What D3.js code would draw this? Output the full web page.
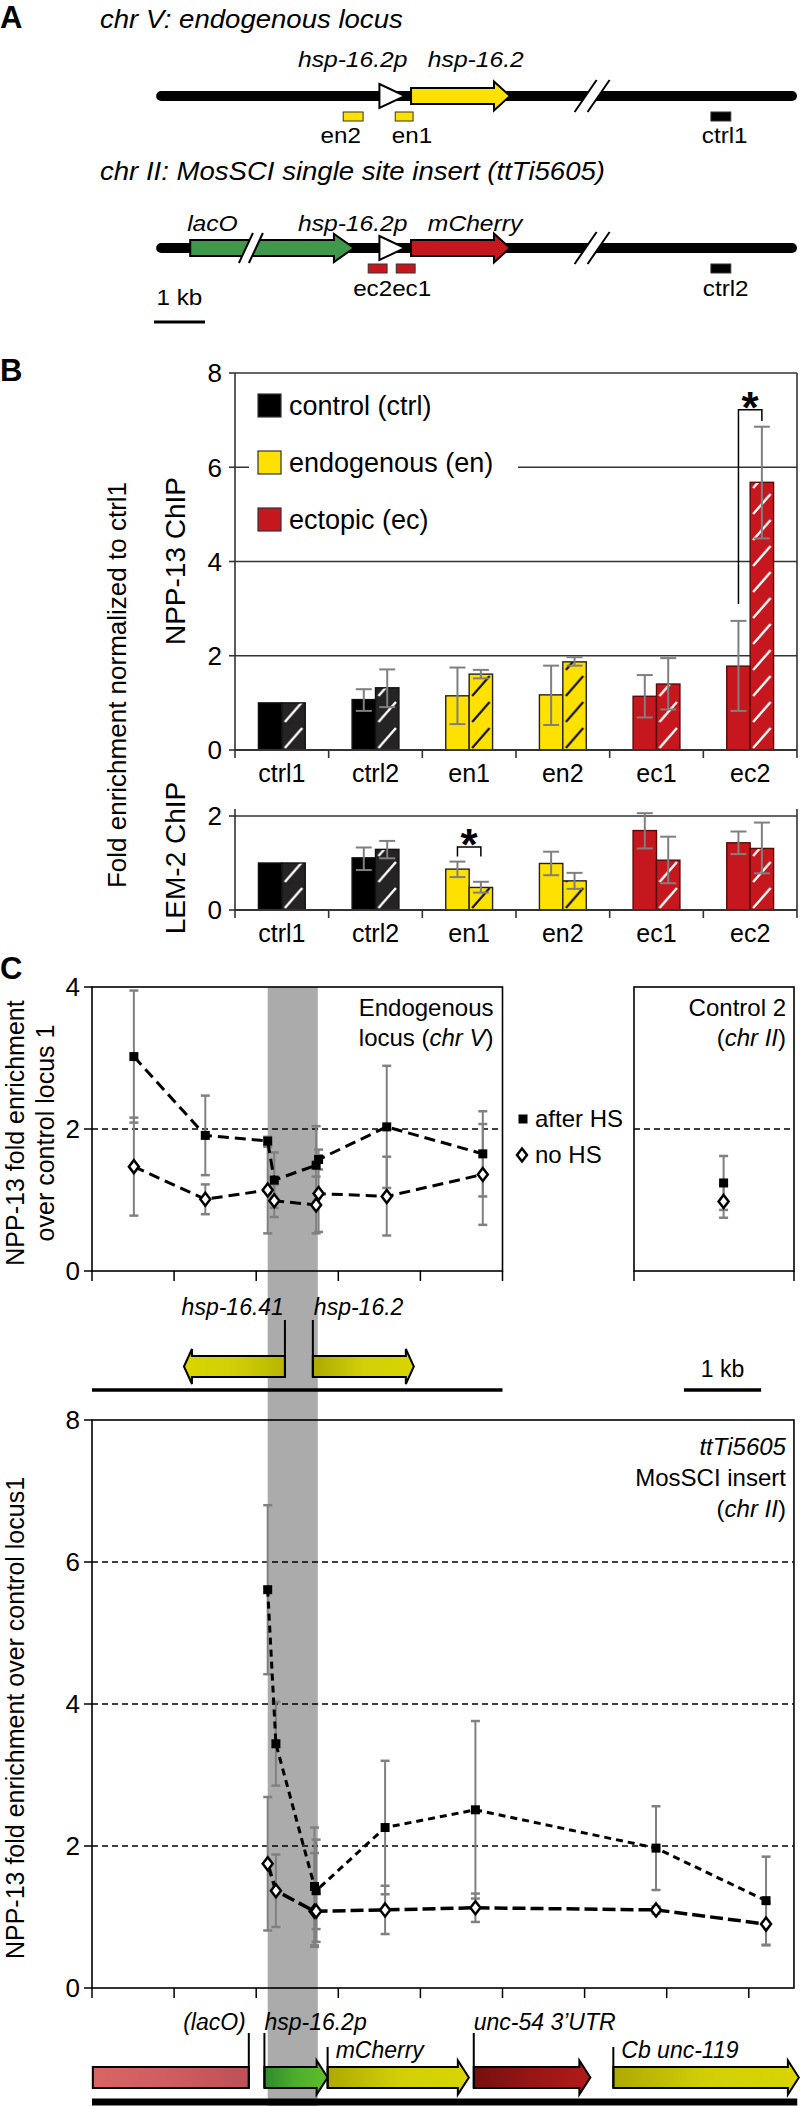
<!DOCTYPE html>
<html><head><meta charset="utf-8">
<script src="https://cdn.jsdelivr.net/npm/d3@7"></script>
<style>
body{margin:0;background:#fff}
svg{display:block}
text{font-family:"Liberation Sans",Arial,Helvetica,sans-serif}
</style>
</head><body>
<svg id="fig" width="800" height="2106"></svg>
<script>
// ===================== DATA =====================
// Panel A (schematic, positions in kb)
const locusVFeatures = { promoter:[4.42,4.92], gene:[5.04,6.98], breakAt:8.59 };
const locusVProbes = [
  {name:"en2", from:3.71, to:4.10, group:"en", label:3.66},
  {name:"en1", from:4.73, to:5.08, group:"en", label:5.06},
  {name:"ctrl1", from:10.92, to:11.31, group:"ctrl", label:11.19}
];
const locusIIFeatures = { lacO:[0.71,3.92], lacOBreak:1.90, promoter:[4.42,4.92], gene:[5.04,6.98], breakAt:8.59 };
const locusIIProbes = [
  {name:"ec2", from:4.20, to:4.57, group:"ec"},
  {name:"ec1", from:4.75, to:5.12, group:"ec"},
  {name:"ctrl2", from:10.92, to:11.31, group:"ctrl", label:11.21}
];

// Panel B
const categories = ["ctrl1","ctrl2","en1","en2","ec1","ec2"];
const categoryGroup = ["ctrl","ctrl","en","en","ec","ec"];
const legendLabels = ["control (ctrl)","endogenous (en)","ectopic (ec)"];
const npp13Solid   = [1.00, 1.07, 1.15, 1.17, 1.14, 1.78];
const npp13SolidLo = [null, 0.83, 0.55, 0.53, 0.69, 0.83];
const npp13SolidHi = [null, 1.29, 1.75, 1.79, 1.59, 2.74];
const npp13Hatch   = [1.00, 1.32, 1.61, 1.87, 1.40, 5.68];
const npp13HatchLo = [null, 0.91, 1.52, 1.79, 0.86, 4.49];
const npp13HatchHi = [null, 1.71, 1.70, 1.97, 1.95, 6.86];
const lem2Solid    = [1.00, 1.11, 0.87, 0.99, 1.69, 1.43];
const lem2SolidLo  = [null, 0.85, 0.70, 0.74, 1.31, 1.19];
const lem2SolidHi  = [null, 1.33, 1.03, 1.24, 2.06, 1.67];
const lem2Hatch    = [1.00, 1.29, 0.48, 0.62, 1.06, 1.31];
const lem2HatchLo  = [null, 1.10, 0.37, 0.45, 0.57, 0.78];
const lem2HatchHi  = [null, 1.47, 0.60, 0.79, 1.56, 1.86];
const npp13Ticks = [0,2,4,6,8];
const lem2Ticks = [0,2];

// Panel C top (endogenous locus, positions in kb)
const endoPos     = [0.51,1.38,2.14,2.22,2.73,2.76,3.59,4.76];
const endoAfterHS = [3.02,1.91,1.83,1.28,1.49,1.57,2.03,1.65];
const endoAfterLo = [2.09,1.35,1.77,0.89,0.94,1.43,1.17,1.05];
const endoAfterHi = [3.95,2.47,1.89,1.67,2.04,1.71,2.89,2.25];
const endoNoHS    = [1.47,1.01,1.14,0.99,0.93,1.09,1.05,1.36];
const endoNoLo    = [0.78,0.80,0.53,0.76,0.53,0.55,0.50,0.65];
const endoNoHi    = [2.16,1.22,1.75,1.22,1.33,1.63,1.61,2.07];
const ctrl2AfterHS = [1.24], ctrl2AfterLo = [0.86], ctrl2AfterHi = [1.62];
const ctrl2NoHS = [0.98], ctrl2NoLo = [0.75], ctrl2NoHi = [1.21];
const ctrl2Pos = [0.56];
const topTicksY = [0,2,4];
// Panel C bottom (MosSCI insert)
const insPos     = [2.14,2.24,2.71,2.73,3.57,4.67,6.87,8.21];
const insAfterHS = [5.61,3.44,1.43,1.37,2.26,2.51,1.97,1.23];
const insAfterLo = [4.42,2.85,0.60,0.65,1.32,1.26,1.38,0.61];
const insAfterHi = [6.80,4.03,2.26,2.09,3.20,3.76,2.56,1.85];
const insNoHS    = [1.75,1.37,1.08,1.08,1.10,1.13,1.10,0.90];
const insNoLo    = [0.81,0.86,0.58,0.83,0.76,0.93,1.05,0.60];
const insNoHi    = [2.69,1.88,1.90,1.33,1.44,1.33,1.15,1.20];
const insTicksY = [0,2,4,6,8];
const shadedRegion = [2.14, 2.75];
const endoGenes = [
  {name:"hsp-16.41", from:2.35, to:1.12},
  {name:"hsp-16.2", from:2.69, to:3.92}
];
const insertParts = [
  {name:"(lacO)", from:0.01, to:1.91, kind:"box", fill:"gLac", labelRow:0},
  {name:"hsp-16.2p", from:2.10, to:2.87, kind:"arrow", fill:"gGreen", labelRow:0},
  {name:"mCherry", from:2.87, to:4.59, kind:"arrow", fill:"gYG", labelRow:1},
  {name:"unc-54 3\u2019UTR", from:4.65, to:6.07, kind:"arrow", fill:"gDark", labelRow:0},
  {name:"Cb unc-119", from:6.35, to:8.61, kind:"arrow", fill:"gYG", labelRow:1}
];

// ===================== HELPERS =====================
const svg = d3.select("#fig");
const defs = svg.append("defs");
function txt(g, x, y, s, o = {}) {
  const t = g.append("text").attr("x", x).attr("y", y)
    .attr("font-size", o.size || 22)
    .attr("text-anchor", o.anchor || "start")
    .attr("fill", o.fill || "#000");
  if (o.italic) t.attr("font-style", "italic");
  if (o.bold) t.attr("font-weight", "bold");
  let tr = "";
  if (o.rotate) tr += `rotate(${o.rotate},${x},${y}) `;
  if (o.sx) tr += `translate(${x},${y}) scale(${o.sx},1) translate(${-x},${-y})`;
  if (tr) t.attr("transform", tr);
  if (o.dy) t.attr("dy", o.dy);
  if (Array.isArray(s)) s.forEach(p => t.append("tspan").attr("font-style", p.i ? "italic" : "normal").text(p.t));
  else t.text(s);
  return t;
}
function arrowPts(x0, x1, yc, bh, hh, hl) {
  const d = Math.sign(x1 - x0), xh = x1 - d * hl;
  return [[x0, yc - bh/2],[xh, yc - bh/2],[xh, yc - hh/2],[x1, yc],[xh, yc + hh/2],[xh, yc + bh/2],[x0, yc + bh/2]];
}
function poly(g, pts, fill, stroke, sw) {
  return g.append("polygon").attr("points", pts.map(p => p.join(",")).join(" "))
    .attr("fill", fill).attr("stroke", stroke || "#000").attr("stroke-width", sw == null ? 2 : sw)
    .attr("stroke-linejoin", "miter");
}
function grad(id, stops) {
  const lg = defs.append("linearGradient").attr("id", id).attr("x1", 0).attr("x2", 1).attr("y1", 0).attr("y2", 0);
  stops.forEach((c, i) => lg.append("stop").attr("offset", i / (stops.length - 1)).attr("stop-color", c));
}
grad("gYG", ["#ADA900", "#D2CF08", "#D8D500"]);
grad("gYGrev", ["#D8D500", "#D2CF08", "#B8B400"]);
grad("gGreen", ["#2E8A2C", "#4DAE2A", "#5FBE2B"]);
grad("gDark", ["#741010", "#981515", "#B31A1A"]);
grad("gLac", ["#D86464", "#CF5C60", "#BE5058"]);

const groupColor = {ctrl:"#000000", en:"#FFE100", ec:"#C7171E"};
const hatchBase = {ctrl:"#262324", en:"#FFE100", ec:"#C7171E"};
const hatchLine = {ctrl:"#FFFFFF", en:"#111111", ec:"#FFFFFF"};
const barStroke = {ctrl:"#111", en:"#222", ec:"#5a0a0a"};

// ===================== PANEL A =====================
const gA = svg.append("g");
const ax = d3.scaleLinear().domain([0, 1]).range([154, 205]); // 1 kb
txt(gA, 0, 28, "A", {size:31, bold:true});
txt(gA, 100, 28, "chr V: endogenous locus", {size:26, italic:true, sx:1.06});
txt(gA, 100, 180, "chr II: MosSCI single site insert (ttTi5605)", {size:26, italic:true, sx:1.06});

function breakMark(g, cx, y, w, h, gap) {
  const pts = [[cx - w/2 - gap/2, y + h/2],[cx + w/2 - gap/2, y - h/2],[cx + w/2 + gap/2, y - h/2],[cx - w/2 + gap/2, y + h/2]];
  poly(g, pts, "#fff", "none", 0);
  g.append("line").attr("x1", pts[0][0]).attr("y1", pts[0][1]).attr("x2", pts[1][0]).attr("y2", pts[1][1]).attr("stroke", "#000").attr("stroke-width", 2);
  g.append("line").attr("x1", pts[3][0]).attr("y1", pts[3][1]).attr("x2", pts[2][0]).attr("y2", pts[2][1]).attr("stroke", "#000").attr("stroke-width", 2);
}
function chrLine(g, y) {
  g.append("line").attr("x1", ax(0.14)).attr("x2", ax(12.51)).attr("y1", y).attr("y2", y)
    .attr("stroke", "#000").attr("stroke-width", 10).attr("stroke-linecap", "round");
}
function promoter(g, f, y) {
  poly(g, [[ax(f[0]), y - 12], [ax(f[1]), y], [ax(f[0]), y + 12]], "#fff", "#000", 2);
}
function probe(g, p, y) {
  g.append("rect").attr("x", ax(p.from)).attr("y", y).attr("width", ax(p.to) - ax(p.from)).attr("height", 9)
    .attr("fill", groupColor[p.group]).attr("stroke", "#333").attr("stroke-width", 1);
}
// Row 1
const y1 = 96;
chrLine(gA, y1);
promoter(gA, locusVFeatures.promoter, y1);
poly(gA, arrowPts(ax(locusVFeatures.gene[0]), ax(locusVFeatures.gene[1]), y1, 16, 29, 16), groupColor.en, "#000", 2);
breakMark(gA, ax(locusVFeatures.breakAt), y1, 22, 32, 13);
txt(gA, ax(4.97), 67, "hsp-16.2p", {size:22, italic:true, anchor:"end", sx:1.12});
txt(gA, ax(5.37), 67, "hsp-16.2", {size:22, italic:true, sx:1.12});
locusVProbes.forEach(p => { probe(gA, p, 112); txt(gA, ax(p.label), 143, p.name, {size:22, anchor:"middle", sx:1.1}); });
// Row 2
const y2 = 248;
chrLine(gA, y2);
poly(gA, arrowPts(ax(locusIIFeatures.lacO[0]), ax(locusIIFeatures.lacO[1]), y2, 16, 28, 20), "#40994A", "#000", 2);
breakMark(gA, ax(locusIIFeatures.lacOBreak), y2, 14, 30, 10);
promoter(gA, locusIIFeatures.promoter, y2);
poly(gA, arrowPts(ax(locusIIFeatures.gene[0]), ax(locusIIFeatures.gene[1]), y2, 16, 29, 16), groupColor.ec, "#000", 2);
breakMark(gA, ax(locusIIFeatures.breakAt), y2, 22, 32, 13);
txt(gA, ax(0.65), 231, "lacO", {size:22, italic:true, sx:1.12});
txt(gA, ax(4.97), 231, "hsp-16.2p", {size:22, italic:true, anchor:"end", sx:1.12});
txt(gA, ax(5.37), 231, "mCherry", {size:22, italic:true, sx:1.12});
locusIIProbes.forEach(p => probe(gA, p, 264));
txt(gA, ax(4.67), 296, "ec2", {size:22, anchor:"end", sx:1.1});
txt(gA, ax(4.67), 296, "ec1", {size:22, anchor:"start", sx:1.1});
txt(gA, ax(11.21), 296, "ctrl2", {size:22, anchor:"middle", sx:1.1});
txt(gA, ax(0.05), 305, "1 kb", {size:22, sx:1.1});
gA.append("line").attr("x1", ax(0)).attr("x2", ax(1)).attr("y1", 322).attr("y2", 322).attr("stroke", "#000").attr("stroke-width", 3);

// ===================== PANEL B =====================
const gB = svg.append("g");
txt(gB, 0, 381, "B", {size:31, bold:true});
const bx = d3.scaleBand().domain(categories).range([235, 797]).paddingInner(0.5).paddingOuter(0.25);
const sub = d3.scaleBand().domain(["solid", "hatch"]).range([0, bx.bandwidth()]);
const yN = d3.scaleLinear().domain([0, 8]).range([750, 373]);
const yL = d3.scaleLinear().domain([0, 2]).range([910, 816]);

function barFrame(g, y, ticks, topY, gridTicks) {
  const x0 = bx.range()[0], x1 = bx.range()[1];
  gridTicks.forEach(t => g.append("line").attr("x1", x0).attr("x2", x1).attr("y1", y(t)).attr("y2", y(t))
    .attr("stroke", "#333").attr("stroke-width", 1.6));
  g.append("line").attr("x1", x0).attr("x2", x0).attr("y1", topY).attr("y2", y(0)).attr("stroke", "#333").attr("stroke-width", 1.6);
  g.append("line").attr("x1", x1).attr("x2", x1).attr("y1", topY).attr("y2", y(0)).attr("stroke", "#333").attr("stroke-width", 1.6);
  ticks.forEach(t => {
    g.append("line").attr("x1", x0 - 6).attr("x2", x0).attr("y1", y(t)).attr("y2", y(t)).attr("stroke", "#333").attr("stroke-width", 1.6);
    txt(g, x0 - 13, y(t), String(t), {size:26, anchor:"end", dy:"0.36em"});
  });
}
function drawBars(g, y, solid, sLo, sHi, hatch, hLo, hHi, key) {
  const w = sub.bandwidth();
  categories.forEach((c, i) => {
    const grp = categoryGroup[i];
    const xs = bx(c) + sub("solid"), xh = bx(c) + sub("hatch");
    g.append("rect").attr("x", xs).attr("y", y(solid[i])).attr("width", w).attr("height", y(0) - y(solid[i]))
      .attr("fill", groupColor[grp]).attr("stroke", barStroke[grp]).attr("stroke-width", 1.4);
    const pid = `h_${key}_${i}`;
    const pat = defs.append("pattern").attr("id", pid).attr("patternUnits", "userSpaceOnUse")
      .attr("x", xh).attr("y", y(0)).attr("width", w).attr("height", 26);
    pat.append("line").attr("x1", 3).attr("y1", 24).attr("x2", w - 3).attr("y2", 4)
      .attr("stroke", hatchLine[grp]).attr("stroke-width", grp === "en" ? 2.2 : 2.4);
    g.append("rect").attr("x", xh).attr("y", y(hatch[i])).attr("width", w).attr("height", y(0) - y(hatch[i]))
      .attr("fill", hatchBase[grp]);
    g.append("rect").attr("x", xh).attr("y", y(hatch[i])).attr("width", w).attr("height", y(0) - y(hatch[i]))
      .attr("fill", `url(#${pid})`).attr("stroke", barStroke[grp]).attr("stroke-width", 1.4);
  });
  categories.forEach((c, i) => {
    [[sub("solid"), sLo[i], sHi[i]], [sub("hatch"), hLo[i], hHi[i]]].forEach(([off, lo, hi]) => {
      if (lo == null) return;
      const xc = bx(c) + off + w / 2;
      g.append("line").attr("x1", xc).attr("x2", xc).attr("y1", y(lo)).attr("y2", y(hi)).attr("stroke", "#7f7f7f").attr("stroke-width", 2);
      [lo, hi].forEach(v => g.append("line").attr("x1", xc - 8).attr("x2", xc + 8).attr("y1", y(v)).attr("y2", y(v))
        .attr("stroke", "#7f7f7f").attr("stroke-width", 2));
    });
  });
  const x0 = bx.range()[0];
  g.append("line").attr("x1", x0).attr("x2", bx.range()[1]).attr("y1", y(0)).attr("y2", y(0)).attr("stroke", "#333").attr("stroke-width", 1.8);
  d3.range(categories.length + 1).forEach(k => {
    const xx = x0 + k * bx.step();
    g.append("line").attr("x1", xx).attr("x2", xx).attr("y1", y(0)).attr("y2", y(0) + 8).attr("stroke", "#333").attr("stroke-width", 1.6);
  });
  categories.forEach(c => txt(g, bx(c) + bx.bandwidth() / 2, y(0) + 32, c, {size:25, anchor:"middle"}));
}
barFrame(gB, yN, npp13Ticks, yN(8), [2, 4, 6, 8]);
const lg = gB.append("g");
lg.append("rect").attr("x", 249).attr("y", 383).attr("width", 269).attr("height", 158).attr("fill", "#fff");
["ctrl", "en", "ec"].forEach((grp, k) => {
  const yy = 394 + k * 57;
  lg.append("rect").attr("x", 258).attr("y", yy).attr("width", 23).attr("height", 23)
    .attr("fill", groupColor[grp]).attr("stroke", "#333").attr("stroke-width", 1.2);
  txt(lg, 289, yy + 21, legendLabels[k], {size:27});
});
drawBars(gB, yN, npp13Solid, npp13SolidLo, npp13SolidHi, npp13Hatch, npp13HatchLo, npp13HatchHi, "n");
barFrame(gB, yL, lem2Ticks, 809, [2]);
drawBars(gB, yL, lem2Solid, lem2SolidLo, lem2SolidHi, lem2Hatch, lem2HatchLo, lem2HatchHi, "l");
function bracket(g, y, i, v1, v2, top) {
  const w = sub.bandwidth();
  const xa = bx(categories[i]) + sub("solid") + w / 2, xb = bx(categories[i]) + sub("hatch") + w / 2;
  g.append("path").attr("d", `M${xa},${y(v1)}V${y(top)}H${xb}V${y(v2)}`).attr("fill", "none").attr("stroke", "#000").attr("stroke-width", 1.5);
  txt(g, (xa + xb) / 2, y(top) + 13, "*", {size:44, bold:true, anchor:"middle"});
}
bracket(gB, yN, 5, 3.1, 6.98, 7.22);
bracket(gB, yL, 2, 1.14, 1.14, 1.34);
txt(gB, 126, 685, "Fold enrichment normalized to ctrl1", {size:26, anchor:"middle", rotate:-90});
txt(gB, 185, 561, "NPP-13 ChIP", {size:28, anchor:"middle", rotate:-90});
txt(gB, 185, 858, "LEM-2 ChIP", {size:28, anchor:"middle", rotate:-90});

// ===================== PANEL C =====================
const gC = svg.append("g");
const cx = d3.scaleLinear().domain([0, 1]).range([92, 174.1]);
const cx2 = d3.scaleLinear().domain([0, 1]).range([634, 794]);
const yTop = d3.scaleLinear().domain([0, 4]).range([1271, 987]);
const yIns = d3.scaleLinear().domain([0, 8]).range([1988, 1420]);
txt(gC, 0, 979, "C", {size:31, bold:true});
gC.append("rect").attr("x", cx(shadedRegion[0])).attr("width", cx(shadedRegion[1]) - cx(shadedRegion[0]))
  .attr("y", yTop(4)).attr("height", 2106 - yTop(4)).attr("fill", "#ABABAB");

function dashed(g, xa, xb, yy) {
  g.append("line").attr("x1", xa).attr("x2", xb).attr("y1", yy).attr("y2", yy)
    .attr("stroke", "#000").attr("stroke-width", 1.6).attr("stroke-dasharray", "6,4");
}
function yTicks(g, y, ticks, xLeft) {
  ticks.forEach(t => {
    g.append("line").attr("x1", xLeft - 8).attr("x2", xLeft).attr("y1", y(t)).attr("y2", y(t)).attr("stroke", "#000").attr("stroke-width", 1.5);
    txt(g, xLeft - 12, y(t), String(t), {size:26, anchor:"end", dy:"0.36em"});
  });
}
function frame(g, xa, xb, ya, yb, tickXs) {
  g.append("rect").attr("x", xa).attr("y", ya).attr("width", xb - xa).attr("height", yb - ya)
    .attr("fill", "none").attr("stroke", "#000").attr("stroke-width", 1.6);
  tickXs.forEach(xx => g.append("line").attr("x1", xx).attr("x2", xx).attr("y1", yb).attr("y2", yb + 10)
    .attr("stroke", "#000").attr("stroke-width", 1.5));
}
function errBars(g, xs, y, lo, hi) {
  xs.forEach((xv, i) => {
    g.append("line").attr("x1", xv).attr("x2", xv).attr("y1", y(lo[i])).attr("y2", y(hi[i])).attr("stroke", "#808080").attr("stroke-width", 2);
    [lo[i], hi[i]].forEach(v => g.append("line").attr("x1", xv - 4.5).attr("x2", xv + 4.5).attr("y1", y(v)).attr("y2", y(v))
      .attr("stroke", "#808080").attr("stroke-width", 2.5));
  });
}
function series(g, xs, y, vals, dash, width) {
  const line = d3.line().x((d, i) => xs[i]).y(d => y(d));
  g.append("path").attr("d", line(vals)).attr("fill", "none").attr("stroke", "#000")
    .attr("stroke-width", width).attr("stroke-dasharray", dash);
}
function squares(g, xs, y, vals) {
  xs.forEach((xv, i) => g.append("rect").attr("x", xv - 4.5).attr("y", y(vals[i]) - 4.5).attr("width", 9).attr("height", 9).attr("fill", "#000"));
}
function diamonds(g, xs, y, vals) {
  xs.forEach((xv, i) => {
    const yy = y(vals[i]);
    g.append("path").attr("d", `M${xv},${yy - 6.5}L${xv + 5},${yy}L${xv},${yy + 6.5}L${xv - 5},${yy}Z`)
      .attr("fill", "#fff").attr("stroke", "#000").attr("stroke-width", 2.5);
  });
}
// --- top plots
const gT = gC.append("g");
dashed(gT, cx(0), cx(5), yTop(2));
dashed(gT, cx2(0), cx2(1), yTop(2));
frame(gT, cx(0), cx(5), yTop(4), yTop(0), d3.range(0, 6).map(cx));
frame(gT, cx2(0), cx2(1), yTop(4), yTop(0), [cx2(0), cx2(1)]);
yTicks(gT, yTop, topTicksY, cx(0));
const endoX = endoPos.map(cx);
errBars(gT, endoX, yTop, endoAfterLo, endoAfterHi);
errBars(gT, endoX, yTop, endoNoLo, endoNoHi);
series(gT, endoX, yTop, endoAfterHS, "11,6", 3);
series(gT, endoX, yTop, endoNoHS, "11,6", 3);
squares(gT, endoX, yTop, endoAfterHS);
diamonds(gT, endoX, yTop, endoNoHS);
const c2X = ctrl2Pos.map(cx2);
errBars(gT, c2X, yTop, ctrl2AfterLo, ctrl2AfterHi);
errBars(gT, c2X, yTop, ctrl2NoLo, ctrl2NoHi);
squares(gT, c2X, yTop, ctrl2AfterHS);
diamonds(gT, c2X, yTop, ctrl2NoHS);
txt(gT, cx(5) - 9, 1016, "Endogenous", {size:24, anchor:"end"});
txt(gT, cx(5) - 9, 1046, [{t:"locus ("}, {t:"chr V", i:true}, {t:")"}], {size:24, anchor:"end"});
txt(gT, cx2(1) - 8, 1016, "Control 2", {size:24, anchor:"end"});
txt(gT, cx2(1) - 8, 1046, [{t:"("}, {t:"chr II", i:true}, {t:")"}], {size:24, anchor:"end"});
const legY = d3.scaleLinear().domain([0, 1]).range([1119, 1155]);
squares(gT, [523], legY, [0]);
diamonds(gT, [522], legY, [1]);
txt(gT, 535, 1127, "after HS", {size:24});
txt(gT, 535, 1163, "no HS", {size:24});
txt(gC, 24, 1133, "NPP-13 fold enrichment", {size:25, anchor:"middle", rotate:-90});
txt(gC, 54, 1133, "over control locus 1", {size:25, anchor:"middle", rotate:-90});

// --- endogenous gene diagram
const gG = gC.append("g");
gG.append("line").attr("x1", cx(0)).attr("x2", cx(5)).attr("y1", 1390).attr("y2", 1390).attr("stroke", "#000").attr("stroke-width", 3.5);
endoGenes.forEach((g, k) => {
  const a = cx(g.from), b = cx(g.to);
  poly(gG, arrowPts(a, b, 1366.5, 21, 35, 8), k === 0 ? "url(#gYGrev)" : "url(#gYG)", "#000", 2);
  gG.append("line").attr("x1", a).attr("x2", a).attr("y1", 1320).attr("y2", 1377).attr("stroke", "#000").attr("stroke-width", 2);
  txt(gG, a + (b > a ? 1 : -1), 1315, g.name, {size:23, italic:true, anchor: b > a ? "start" : "end"});
});
txt(gG, cx(7.68), 1377, "1 kb", {size:23, anchor:"middle"});
gG.append("line").attr("x1", cx(7.21)).attr("x2", cx(8.15)).attr("y1", 1390).attr("y2", 1390).attr("stroke", "#000").attr("stroke-width", 3.5);

// --- insert plot
const gI = gC.append("g");
[2, 4, 6].forEach(t => dashed(gI, cx(0), cx(8.55), yIns(t)));
frame(gI, cx(0), cx(8.55), yIns(8), yIns(0), d3.range(0, 9).map(cx));
yTicks(gI, yIns, insTicksY, cx(0));
const insX = insPos.map(cx);
errBars(gI, insX, yIns, insAfterLo, insAfterHi);
errBars(gI, insX, yIns, insNoLo, insNoHi);
series(gI, insX, yIns, insAfterHS, "7,5", 3);
series(gI, insX, yIns, insNoHS, "13,5", 3.5);
squares(gI, insX, yIns, insAfterHS);
diamonds(gI, insX, yIns, insNoHS);
txt(gI, cx(8.55) - 8, 1455, "ttTi5605", {size:24, italic:true, anchor:"end"});
txt(gI, cx(8.55) - 8, 1486, "MosSCI insert", {size:24, anchor:"end"});
txt(gI, cx(8.55) - 8, 1517, [{t:"("}, {t:"chr II", i:true}, {t:")"}], {size:24, anchor:"end"});
txt(gC, 24, 1718, "NPP-13 fold enrichment over control locus1", {size:25, anchor:"middle", rotate:-90});

// --- insert diagram
const gD = gC.append("g");
insertParts.forEach(p => {
  const a = cx(p.from), b = cx(p.to);
  if (p.kind === "box") {
    gD.append("rect").attr("x", a).attr("y", 2067).attr("width", b - a).attr("height", 21)
      .attr("fill", `url(#${p.fill})`).attr("stroke", "#000").attr("stroke-width", 2);
    gD.append("line").attr("x1", b).attr("x2", b).attr("y1", 2033).attr("y2", 2088).attr("stroke", "#000").attr("stroke-width", 2);
    txt(gD, b - 3, 2030, p.name, {size:23, italic:true, anchor:"end"});
  } else {
    poly(gD, arrowPts(a, b, 2077.5, 21, 34, 11), `url(#${p.fill})`, "#000", 2);
    const top = p.labelRow === 0 ? 2033 : 2047;
    gD.append("line").attr("x1", a).attr("x2", a).attr("y1", top).attr("y2", 2088).attr("stroke", "#000").attr("stroke-width", 2);
    txt(gD, a + (p.labelRow === 0 ? 0 : 8), p.labelRow === 0 ? 2030 : 2058, p.name, {size:23, italic:true});
  }
});
gD.append("line").attr("x1", cx(0)).attr("x2", cx(8.59)).attr("y1", 2102).attr("y2", 2102).attr("stroke", "#000").attr("stroke-width", 7);
</script>
</body></html>
